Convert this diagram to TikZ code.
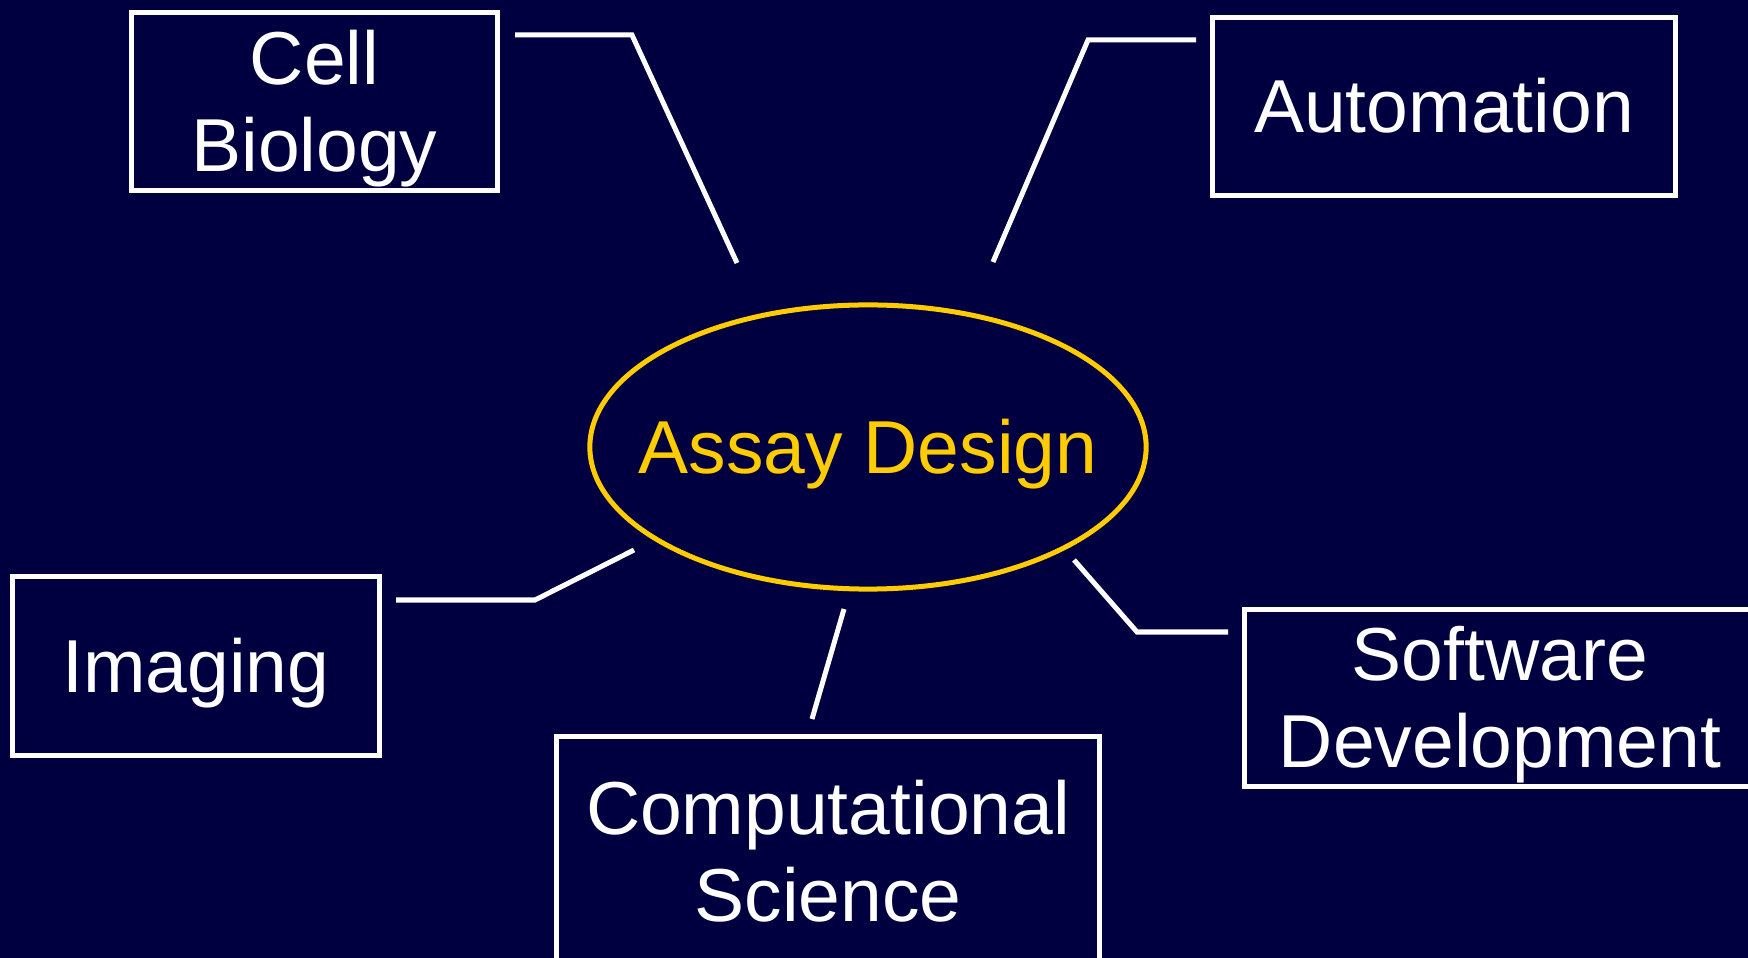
\documentclass[tikz,border=0pt]{standalone}
\usepackage{fontspec}
\setmainfont{Liberation Sans}
\usetikzlibrary{shapes.geometric}
\definecolor{slidebg}{HTML}{000040}
\definecolor{hubgold}{HTML}{FFCC00}
% line strut: full ascent/descent of the face, so each line is centred like a slide text box
\newcommand{\ls}{\rule[-0.21em]{0pt}{1.115em}}
\tikzset{
  slidefont/.style={font=\fontsize{21.34pt}{24.75pt}\selectfont},
  field/.style={slidefont, draw=white, line width=0.05cm, rectangle, inner sep=0pt,
                text=white, align=center},
  hub/.style={draw=hubgold, line width=0.05cm, ellipse, inner sep=0pt,
              minimum width=5.56cm, minimum height=2.84cm},
  hubtext/.style={slidefont, text=hubgold, inner sep=0pt},
  link/.style={draw=white, line width=0.05cm}
}
\begin{document}
\begin{tikzpicture}[x=0.01cm,y=-0.01cm]
\useasboundingbox (0,0) rectangle (1748,958);
\clip (0,0) rectangle (1748,958);
\fill[slidebg] (0,0) rectangle (1748,958);

% central topic
\node (assay) [hub] at (868,447) {};
\node (assaytext) [hubtext] at (assay.center) {\ls Assay Design};

% surrounding disciplines
\node (cell) [field, minimum width=3.65cm, minimum height=1.77cm] at (314.5,101.5) {\ls Cell\\\ls Biology};
\node (auto) [field, minimum width=4.62cm, minimum height=1.77cm] at (1444,106.5) {\ls Automation};
\node (img)  [field, minimum width=3.66cm, minimum height=1.78cm] at (196,666) {\ls Imaging};
\node (comp) [field, minimum width=5.42cm, minimum height=2.30cm] at (828,852) {\ls Computational\\\ls Science};
\node (soft) [field, minimum width=5.10cm, minimum height=1.76cm] at (1500,698) {\ls Software\\\ls Development};

% free ends and bends of the connectors
\coordinate (cell-a) at (515,35);
\coordinate (cell-b) at (632,35);
\coordinate (cell-c) at (737,263);
\coordinate (auto-a) at (1196,40);
\coordinate (auto-b) at (1088,40);
\coordinate (auto-c) at (993,262);
\coordinate (img-a) at (396,600);
\coordinate (img-b) at (535,600);
\coordinate (img-c) at (634,550);
\coordinate (comp-a) at (812,719);
\coordinate (comp-c) at (844,609);
\coordinate (soft-a) at (1228,632);
\coordinate (soft-b) at (1137,632);
\coordinate (soft-c) at (1074,560);

\draw[link] (cell-a) -- (cell-b) -- (cell-c);
\draw[link] (auto-a) -- (auto-b) -- (auto-c);
\draw[link] (img-a) -- (img-b) -- (img-c);
\draw[link] (comp-a) -- (comp-c);
\draw[link] (soft-a) -- (soft-b) -- (soft-c);
\end{tikzpicture}
\end{document}
